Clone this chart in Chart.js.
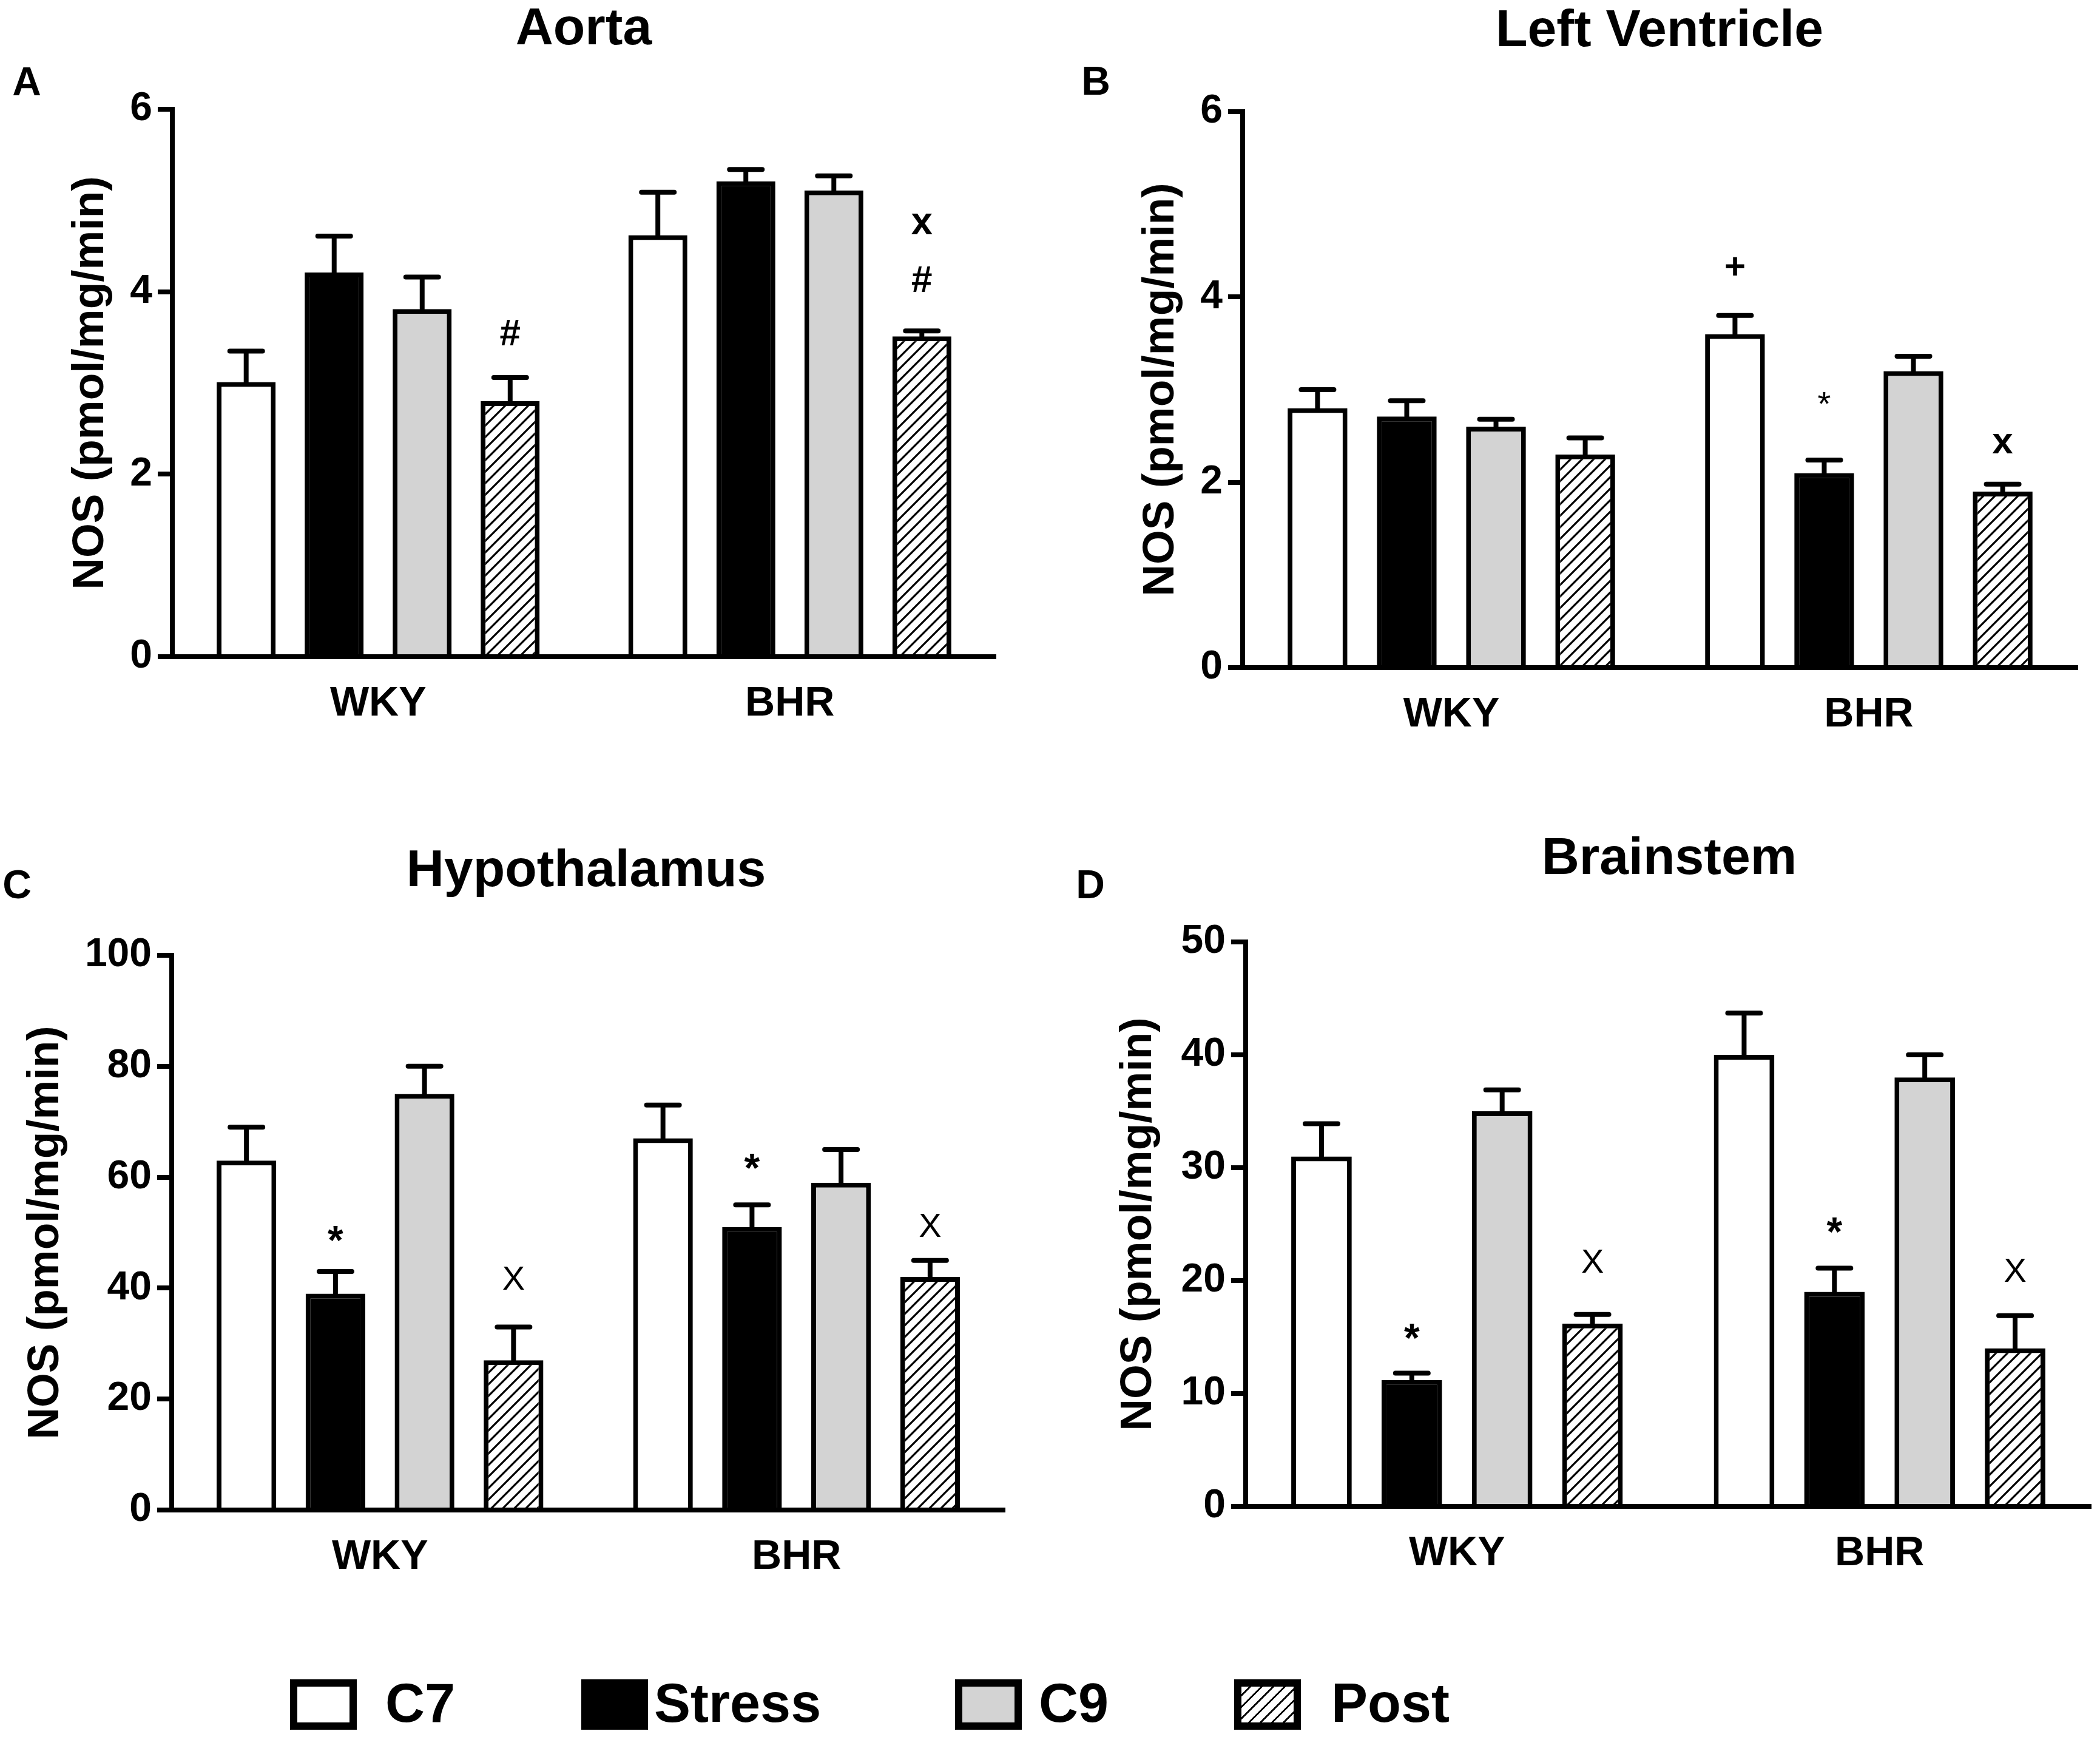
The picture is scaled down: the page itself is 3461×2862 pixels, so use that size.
<!DOCTYPE html>
<html lang="en">
<head>
  <meta charset="UTF-8" />
  <title>NOS activity</title>
  <script src="https://cdn.jsdelivr.net/npm/chart.js"></script>
  <style>
    body { margin: 0; background: #fff; font-family: 'Liberation Sans', Arial, sans-serif; }
    #page { position: relative; width: 3461px; height: 2862px; overflow: hidden; background: #fff; }
    canvas { position: absolute; }
    .key { position: absolute; top: 2767px; width: 110px; height: 83px; box-sizing: border-box; border: 12px solid #000; }
    .lab { position: absolute; top: 2761px; font-weight: bold; font-size: 90px; line-height: 1; color: #000; }
  </style>
</head>
<body>
<div id="page">
  <canvas id="cA" width="1730" height="1300" style="left:0;top:0"></canvas>
  <canvas id="cB" width="1731" height="1300" style="left:1730px;top:0"></canvas>
  <canvas id="cC" width="1730" height="1340" style="left:0;top:1300px"></canvas>
  <canvas id="cD" width="1731" height="1340" style="left:1730px;top:1300px"></canvas>

  <div class="key" style="left:478px;background:#fff"></div><span class="lab" style="left:635px">C7</span>
  <div class="key" style="left:958px;background:#000"></div><span class="lab" style="left:1078px">Stress</span>
  <div class="key" style="left:1574px;background:#d3d3d3"></div><span class="lab" style="left:1712px">C9</span>
  <div class="key" style="left:2034px;background:repeating-linear-gradient(-45deg,#fff 0 10.4px,#000 10.4px 13.4px)"></div><span class="lab" style="left:2194px">Post</span>
</div>

<script>
  const FONT = "'Liberation Sans', Arial, sans-serif";

  const groups = ['WKY', 'BHR'];
  const series = ['C7', 'Stress', 'C9', 'Post'];
  const panelTitles = ['Aorta', 'Left Ventricle', 'Hypothalamus', 'Brainstem'];
  const panelLetters = ['A', 'B', 'C', 'D'];

  // mean and SEM per series, as [WKY, BHR]
  const aortaMean = [[3.01, 4.62], [4.21, 5.21], [3.81, 5.11], [2.80, 3.51]];
  const aortaSem  = [[0.34, 0.47], [0.40, 0.13], [0.35, 0.16], [0.26, 0.06]];
  const lvMean    = [[2.80, 3.60], [2.71, 2.10], [2.60, 3.20], [2.30, 1.90]];
  const lvSem     = [[0.20, 0.20], [0.17, 0.14], [0.08, 0.16], [0.18, 0.08]];
  const hypoMean  = [[63, 67], [39, 51], [75, 59], [27, 42]];
  const hypoSem   = [[6, 6], [4, 4], [5, 6], [6, 3]];
  const brainMean = [[31, 40], [11.2, 19], [35, 38], [16.2, 14]];
  const brainSem  = [[2.9, 3.7], [0.6, 2.1], [1.9, 2.0], [0.8, 2.9]];

  // y axis: [min, max, step]
  const aortaAxis = [0, 6, 2];
  const lvAxis    = [0, 6, 2];
  const hypoAxis  = [0, 100, 20];
  const brainAxis = [0, 50, 10];

  // significance marks: [group, series, symbol, level on the y axis]
  const aortaMarks = [[0, 3, '#', 3.55], [1, 3, '#', 4.14], [1, 3, 'x', 4.74]];
  const lvMarks    = [[1, 0, '+', 4.33], [1, 1, '*', 2.91], [1, 3, 'x', 2.42]];
  const hypoMarks  = [[0, 1, '*', 49.8], [0, 3, 'X', 41.8], [1, 1, '*', 62.9], [1, 3, 'X', 51.3]];
  const brainMarks = [[0, 1, '*', 15.5], [0, 3, 'X', 21.7], [1, 1, '*', 24.9], [1, 3, 'X', 20.9]];

  function hatchPattern() {
    const d = 19;
    const c = document.createElement('canvas');
    c.width = d; c.height = d;
    const g = c.getContext('2d');
    g.fillStyle = '#fff';
    g.fillRect(0, 0, d, d);
    g.strokeStyle = '#000';
    g.lineWidth = 3.2;
    g.beginPath();
    g.moveTo(0, d); g.lineTo(d, 0);
    g.moveTo(-d / 4, d / 4); g.lineTo(d / 4, -d / 4);
    g.moveTo(d * 3 / 4, d * 5 / 4); g.lineTo(d * 5 / 4, d * 3 / 4);
    g.stroke();
    return g.createPattern(c, 'repeat');
  }

  const errorBars = {
    id: 'errorBars',
    afterDatasetsDraw(chart) {
      const ctx = chart.ctx, y = chart.scales.y;
      ctx.save();
      ctx.strokeStyle = '#000';
      ctx.lineWidth = 8;
      ctx.lineCap = 'round';
      chart.data.datasets.forEach((ds, i) => {
        chart.getDatasetMeta(i).data.forEach((bar, j) => {
          const top = y.getPixelForValue(ds.data[j] + ds.sem[j]);
          ctx.beginPath();
          ctx.moveTo(bar.x, bar.y);
          ctx.lineTo(bar.x, top);
          ctx.moveTo(bar.x - 27, top);
          ctx.lineTo(bar.x + 27, top);
          ctx.stroke();
        });
      });
      ctx.restore();
    }
  };

  const marks = {
    id: 'marks',
    afterDatasetsDraw(chart, args, opts) {
      const ctx = chart.ctx, y = chart.scales.y;
      ctx.save();
      ctx.fillStyle = '#000';
      ctx.textAlign = 'center';
      ctx.textBaseline = 'alphabetic';
      opts.items.forEach(([g, s, sym, level]) => {
        const bar = chart.getDatasetMeta(s).data[g];
        ctx.font = opts.fonts[sym];
        const m = ctx.measureText(sym);
        const cy = y.getPixelForValue(level);
        ctx.fillText(sym, bar.x, cy + (m.actualBoundingBoxAscent - m.actualBoundingBoxDescent) / 2);
      });
      ctx.restore();
    }
  };

  const panelText = {
    id: 'panelText',
    afterDraw(chart, args, opts) {
      const ctx = chart.ctx;
      ctx.save();
      ctx.fillStyle = '#000';
      ctx.textBaseline = 'alphabetic';
      ctx.textAlign = 'center';
      ctx.font = 'bold 86px ' + FONT;
      ctx.fillText(opts.title, opts.titleX, opts.titleY);
      ctx.font = 'bold 66px ' + FONT;
      ctx.fillText(opts.letter, opts.letterX, opts.letterY);
      ctx.restore();
    }
  };

  const hatch = hatchPattern();
  const fills = ['#ffffff', '#000000', '#d3d3d3', hatch];

  function makePanel(id, k, mean, sem, axis, items, fonts, box) {
    const canvas = document.getElementById(id);
    const W = canvas.width, H = canvas.height;
    new Chart(canvas, {
      type: 'bar',
      data: {
        labels: groups,
        datasets: series.map((name, i) => ({
          label: name,
          data: mean[i],
          sem: sem[i],
          backgroundColor: fills[i],
          borderColor: '#000',
          borderWidth: 8,
          categoryPercentage: 0.855,
          barPercentage: 0.67
        }))
      },
      options: {
        responsive: false,
        animation: false,
        devicePixelRatio: 1,
        layout: { padding: { left: 0, top: box.top, right: W - box.right, bottom: 0 } },
        plugins: {
          legend: { display: false },
          tooltip: { enabled: false },
          marks: { items, fonts },
          panelText: {
            title: panelTitles[k], titleX: box.titleX, titleY: box.titleY,
            letter: panelLetters[k], letterX: box.letterX, letterY: box.letterY
          }
        },
        scales: {
          x: {
            z: 1,
            grid: { display: false },
            border: { display: true, color: '#000', width: 8 },
            ticks: { color: '#000', padding: 29, font: { family: FONT, size: 68, weight: 'bold' } },
            afterFit: s => { s.height = H - box.bottom; }
          },
          y: {
            min: axis[0],
            max: axis[1],
            ticks: { stepSize: axis[2], color: '#000', padding: 9, font: { family: FONT, size: 66, weight: 'bold' } },
            grid: { drawOnChartArea: false, drawTicks: true, tickLength: 24, color: '#000', lineWidth: 8 },
            border: { display: true, color: '#000', width: 8 },
            title: {
              display: true,
              text: 'NOS (pmol/mg/min)',
              color: '#000',
              font: { family: FONT, size: 73, weight: 'bold' },
              padding: { top: box.yPad, bottom: 0 }
            },
            afterFit: s => { s.width = box.left; }
          }
        }
      },
      plugins: [errorBars, marks, panelText]
    });
  }

  const fontsAC = {
    '#': 'bold 62px ' + FONT,
    'x': 'bold 64px ' + FONT,
    '+': 'bold 60px ' + FONT,
    '*': 'bold 66px ' + FONT,
    'X': '56px ' + FONT
  };
  const fontsB = Object.assign({}, fontsAC, { '*': '56px ' + FONT, 'x': 'bold 62px ' + FONT });

  makePanel('cA', 0, aortaMean, aortaSem, aortaAxis, aortaMarks, fontsAC,
    { left: 284, right: 1641, top: 180, bottom: 1082, titleX: 962, titleY: 73, letterX: 44, letterY: 157, yPad: 106 });
  makePanel('cB', 1, lvMean, lvSem, lvAxis, lvMarks, fontsB,
    { left: 318, right: 1694, top: 184, bottom: 1100, titleX: 1005, titleY: 76, letterX: 76, letterY: 156, yPad: 140 });
  makePanel('cC', 2, hypoMean, hypoSem, hypoAxis, hypoMarks, fontsAC,
    { left: 283, right: 1656, top: 274, bottom: 1188, titleX: 966, titleY: 160, letterX: 28, letterY: 180, yPad: 32 });
  makePanel('cD', 3, brainMean, brainSem, brainAxis, brainMarks, fontsAC,
    { left: 323, right: 1716, top: 252, bottom: 1182, titleX: 1021, titleY: 140, letterX: 67, letterY: 180, yPad: 103 });
</script>
</body>
</html>
